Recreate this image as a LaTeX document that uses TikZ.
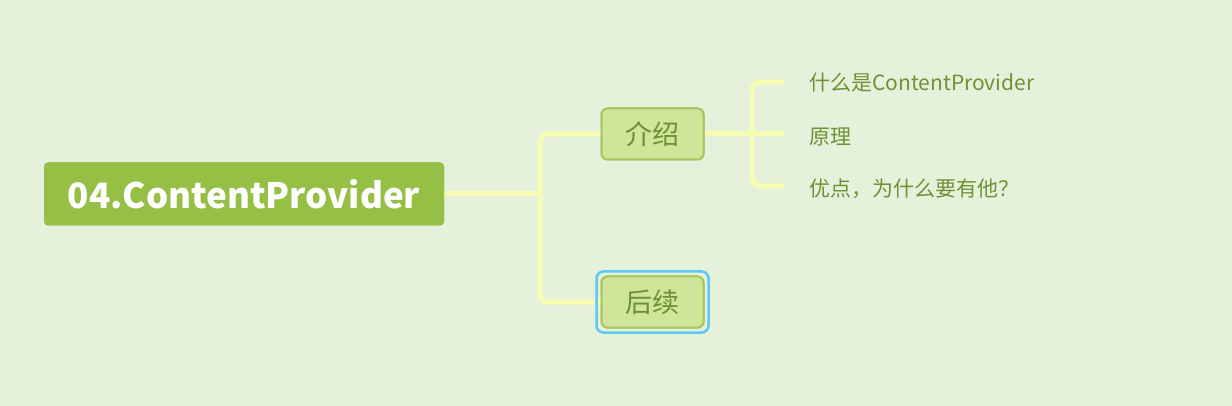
\documentclass[tikz,border=0pt]{standalone}
\usepackage{fontspec}
\setmainfont{Noto Sans CJK SC}
\usetikzlibrary{fit}
\definecolor{bg}{HTML}{E6F1DC}
\definecolor{rootfill}{HTML}{95C045}
\definecolor{subfill}{HTML}{CFE59A}
\definecolor{subdraw}{HTML}{AAC660}
\definecolor{subtext}{HTML}{6E8F33}
\definecolor{leaftext}{HTML}{6E9234}
\definecolor{conncol}{HTML}{F4FDB0}
\definecolor{selcol}{HTML}{5EC8F4}
\tikzset{
  rootbox/.style={fill=rootfill, rounded corners=4pt, minimum width=400pt, minimum height=63pt, inner sep=0pt, text=white, font=\bfseries\fontsize{35}{40}\selectfont},
  subbox/.style={fill=subfill, draw=subdraw, line width=2pt, rounded corners=6pt, minimum width=102pt, minimum height=51pt, inner sep=0pt, text=subtext, font=\fontsize{27}{30}\selectfont},
  leaf/.style={anchor=west, inner sep=0pt, text=leaftext, font=\fontsize{21}{24}\selectfont},
  conn/.style={draw=conncol, line width=5pt},
  sel/.style={draw=selcol, line width=2.5pt, rounded corners=7pt}
}
\begin{document}
\begin{tikzpicture}[x=1pt,y=-1pt]
\fill[bg] (0,0) rectangle (1232,406);
\useasboundingbox (0,0) rectangle (1232,406);
\coordinate (sp) at (540,194);
\coordinate (b) at (752,134);
\coordinate (e1) at (784,82);
\coordinate (e2) at (784,134);
\coordinate (e3) at (784,186);
\node[rootbox] (root) at (244,194) {04.ContentProvider};
\node[subbox] (js) at (652.5,134) {介绍};
\node[subbox] (hx) at (652.5,302) {后续};
\draw[conn] (root.east) -- (sp);
\draw[conn, rounded corners=8pt] (sp) |- (js.west);
\draw[conn, rounded corners=8pt] (sp) |- (hx.west);
\draw[conn] (js.east) -- (b);
\draw[conn, rounded corners=8pt] (b) |- (e1);
\draw[conn, rounded corners=8pt] (b) |- (e3);
\draw[conn] (b) -- (e2);
\node[rootbox] at (root) {04.ContentProvider};
\node[subbox] at (js) {介绍};
\node[subbox] at (hx) {后续};
\node[sel, fit=(hx), inner sep=4pt] (hxsel) {};
\node[leaf] (l1) at (809,83) {什么是ContentProvider};
\node[leaf] (l2) at (809,137) {原理};
\node[leaf] (l3) at (809,189) {优点，为什么要有他？};
\end{tikzpicture}
\end{document}
